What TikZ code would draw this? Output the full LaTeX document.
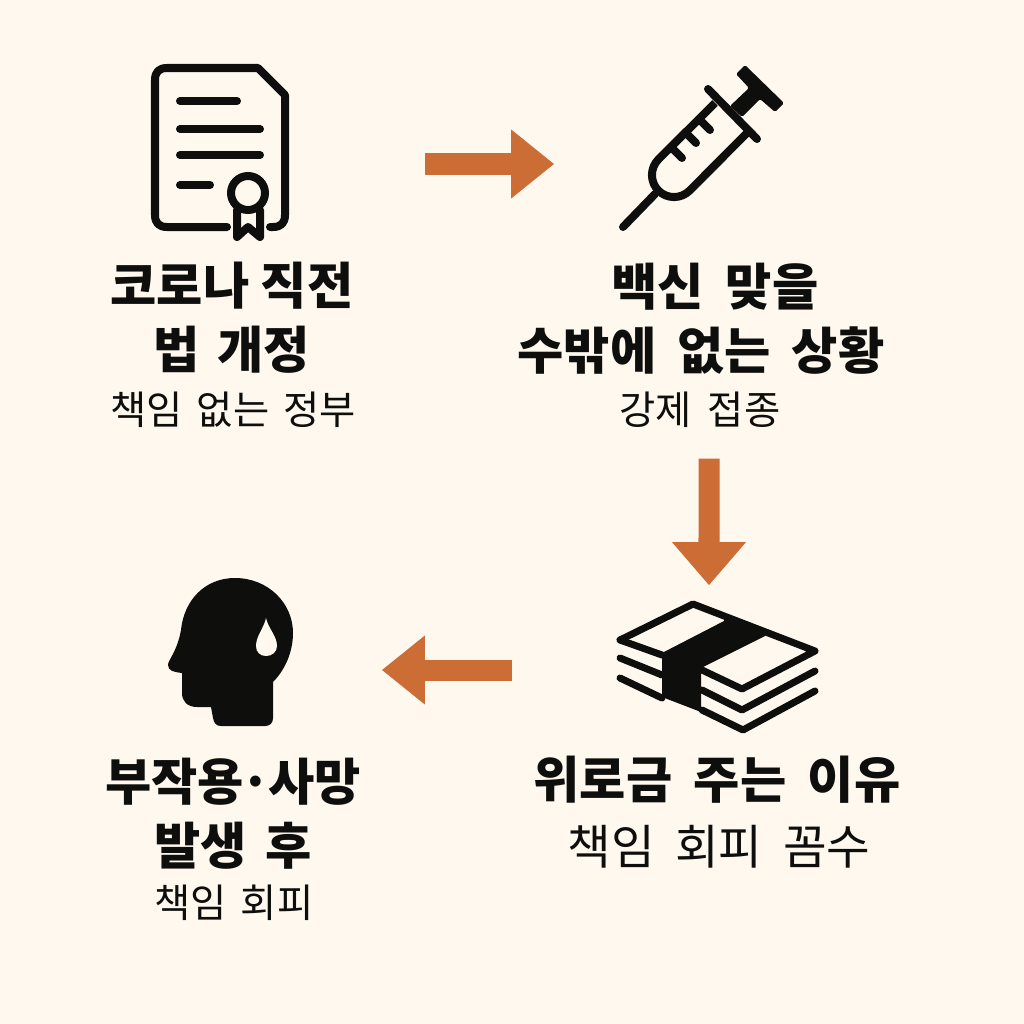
\documentclass[tikz,border=0pt]{standalone}
\usepackage{fontspec}
\setmainfont{Noto Sans CJK KR}
\usetikzlibrary{arrows.meta}
\definecolor{paper}{HTML}{FEF8EF}
\definecolor{ink}{HTML}{0E0E0C}
\definecolor{burnt}{HTML}{CB6D35}
\newcommand{\wsp}[1][0.1cm]{\hspace{#1}}

\begin{document}
\begin{tikzpicture}[x=0.01cm, y=-0.01cm,
    every node/.style={text=ink, align=center, inner sep=0pt},
    titletext/.style={font=\fontsize{14.3}{18.2}\selectfont\bfseries},
    subtext/.style={font=\fontsize{11.2}{14}\selectfont},
    iconbox/.style={minimum width=#1},
    iconline/.style={draw=ink, line width=0.08cm, line cap=round, line join=round},
    moneyline/.style={iconline, line width=0.07cm},
    bigarrow/.style={draw=burnt, line width=0.21cm, -{Triangle[length=0.43cm, width=#1]}, burnt},
    bigarrow/.default=0.66cm]
    \useasboundingbox (0,0) rectangle (1024,1024);
    \fill[paper] (0,0) rectangle (1024,1024);

    % icon slots
    \node[iconbox=1.38cm] (doc) at (221,164) {};
    \node[iconbox=1.66cm] (syringe) at (701,164) {};
    \node[iconbox=2cm, minimum height=1.3cm] (money) at (717,670) {};
    \node[iconbox=1.26cm] (head) at (231,670) {};

    % document
    \draw[iconline] (227,227) -- (167,227) .. controls (159,227) and (155,223) .. (155,215) -- (155,80)
        .. controls (155,72) and (159,68) .. (167,68) -- (258,68) -- (285,95) -- (285,215)
        .. controls (285,223) and (281,227) .. (273,227) -- (270,227);
    \draw[iconline] (180,101) -- (237,101);
    \draw[iconline] (180,129) -- (260,129);
    \draw[iconline] (180,155) -- (260,155);
    \draw[iconline] (180,185) -- (210,185);
    \draw[iconline] (248,193) circle[radius=17];
    \draw[iconline] (237,210) -- (237,237) -- (248,227) -- (260,237) -- (260,210);

    % syringe
    \draw[iconline] (623,227) -- (655,194);
    \draw[iconline] (708,89) -- (757,139);
    \draw[iconline, line cap=butt] (715,103) -- (658.4,159.4) .. controls (649.8,168) and (649.8,182) .. (658.4,190.6)
        .. controls (667,199.2) and (681,199.2) .. (689.6,190.6) -- (747,133);
    \draw[iconline] (671,147) -- (682,158);
    \draw[iconline] (685.5,132.5) -- (696,143);
    \draw[iconline] (699,119) -- (710,130);
    \fill[ink, rounded corners=0.015cm] (730,106) -- (749,88) -- (736,74) -- (745,65) -- (784,103) -- (775,112) -- (760,99) -- (742,117) -- cycle;

    % money
    \draw[moneyline] (620,640) -- (693,604) -- (815,651) -- (742,689) -- (702,670);
    \draw[moneyline] (620,640) -- (662,655);
    \draw[moneyline] (620,658) -- (662,675);
    \draw[moneyline] (620,678) -- (662,698);
    \draw[moneyline] (702,690) -- (742,710) -- (815,671);
    \draw[moneyline] (702,710) -- (743,730) -- (815,691);
    \fill[ink] (662,653) -- (724,621) -- (724,616) -- (765,632) -- (765,636) -- (701,668) -- (701,712) -- (662,697) -- cycle;

    % head with drop
    \fill[ink] (235,578) .. controls (268,578) and (293,603) .. (293,633)
        .. controls (293,652) and (285,670) .. (273,682) -- (273,718)
        .. controls (273,723) and (270,726) .. (265,726) -- (221,726)
        .. controls (216,726) and (214,723) .. (213,718) -- (211,707) -- (197,707)
        .. controls (187,707) and (182,701) .. (182,693) -- (182,673)
        .. controls (174,672) and (168,671) .. (168,665)
        .. controls (168,660) and (177,652) .. (181,630)
        .. controls (184,600) and (205,578) .. (235,578) -- cycle;
    \fill[paper] (266,618) .. controls (268,628) and (277,636) .. (277,646)
        .. controls (277,652) and (272,656) .. (266,656)
        .. controls (260,656) and (256,652) .. (256,646)
        .. controls (256,636) and (264,628) .. (266,618) -- cycle;

    % captions
    \node[titletext] (covid) at (232,318) {코로나 직전\\법\wsp[0.06cm] 개정};
    \node[subtext] (covidsub) at (233,410) {책임\wsp[0.05cm] 없는\wsp[0.05cm] 정부};
    \node[titletext] (vaccine) at (701,319) {\hspace*{0.28cm}백신\wsp{} 맞을\\수밖에\wsp{} 없는\wsp{} 상황};
    \node[subtext] (vaccinesub) at (700,410) {강제\wsp[0.07cm] 접종};
    \node[titletext] (comfort) at (717,780) {위로금\wsp{} 주는\wsp{} 이유};
    \node[subtext, font=\fontsize{13.5}{17}\selectfont] (comfortsub) at (719,847) {책임\wsp[0.1cm] 회피\wsp[0.1cm] 꼼수};
    \node[titletext] (effect) at (233,814) {부작용\kern-0.03cm·\kern-0.03cm 사망\\발생\wsp[0.07cm] 후};
    \node[subtext] (effectsub) at (234,903) {책임\wsp[0.05cm] 회피};

    % arrows
    \draw[bigarrow, shorten <=1.34cm, shorten >=0.63cm] (doc) -- (syringe);
    \draw[bigarrow=0.71cm, shorten <=0.30cm, shorten >=0.19cm] ([xshift=0.09cm]vaccinesub.south) -- ([xshift=-0.08cm]money.north);
    \draw[bigarrow, shorten <=1.04cm, shorten >=0.87cm] (money) -- (head);
\end{tikzpicture}
\end{document}
